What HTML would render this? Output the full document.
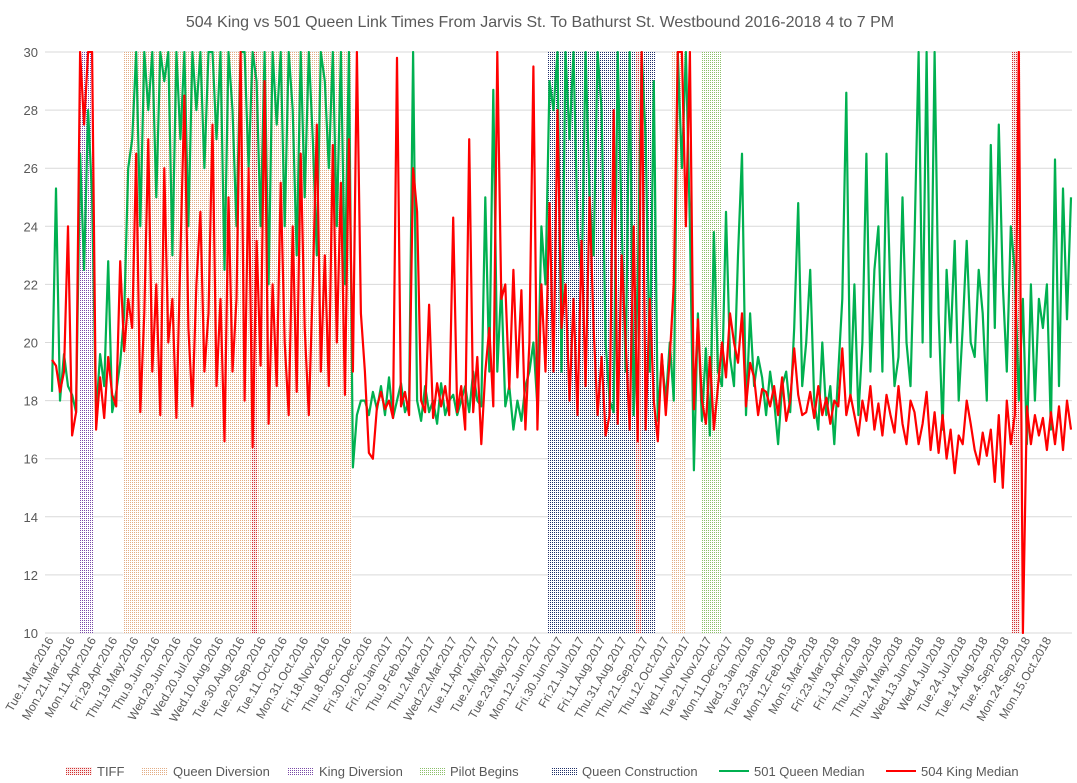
<!DOCTYPE html>
<html><head><meta charset="utf-8">
<style>
html,body{margin:0;padding:0;background:#fff;}
svg{display:block;font-family:"Liberation Sans",sans-serif;}
</style></head>
<body>
<svg id="chart" width="1077" height="783" viewBox="0 0 1077 783">
<defs>
<pattern id="pTiff" width="2" height="2" patternUnits="userSpaceOnUse"><rect width="2" height="2" fill="#fbeaea"/><rect width="1" height="1" fill="#d03030"/></pattern>
<pattern id="pQD" width="2" height="2" patternUnits="userSpaceOnUse"><rect width="2" height="2" fill="#fff"/><rect width="1" height="1" fill="#e3ad85"/></pattern>
<pattern id="pKD" width="2" height="2" patternUnits="userSpaceOnUse"><rect width="2" height="2" fill="#fff"/><rect width="1" height="1" fill="#7a4aa8"/></pattern>
<pattern id="pPB" width="2" height="2" patternUnits="userSpaceOnUse"><rect width="2" height="2" fill="#fff"/><rect width="1" height="1" fill="#8cbf6a"/></pattern>
<pattern id="pQC" width="2" height="2" patternUnits="userSpaceOnUse"><rect width="2" height="2" fill="#fff"/><rect width="1" height="1" fill="#1f2f6a"/></pattern>
<clipPath id="plotClip"><rect x="45" y="51" width="1032" height="583"/></clipPath>
</defs>
<text x="540" y="27" text-anchor="middle" font-size="16" fill="#595959">504 King vs 501 Queen Link Times From Jarvis St. To Bathurst St. Westbound 2016-2018 4 to 7 PM</text>
<g id="grid"></g>
<g id="bands" clip-path="url(#plotClip)"></g>
<g id="series" clip-path="url(#plotClip)"></g>
<g id="yaxis"></g>
<g id="xaxis"></g>
<g id="legend"></g>
</svg>
<script>
const yTicks = [10,12,14,16,18,20,22,24,26,28,30];
const xTickLabels = ["Tue.1.Mar.2016","Mon.21.Mar.2016","Mon.11.Apr.2016","Fri.29.Apr.2016","Thu.19.May.2016","Thu.9.Jun.2016","Wed.29.Jun.2016","Wed.20.Jul.2016","Wed.10.Aug.2016","Tue.30.Aug.2016","Tue.20.Sep.2016","Tue.11.Oct.2016","Mon.31.Oct.2016","Fri.18.Nov.2016","Thu.8.Dec.2016","Fri.30.Dec.2016","Fri.20.Jan.2017","Thu.9.Feb.2017","Thu.2.Mar.2017","Wed.22.Mar.2017","Tue.11.Apr.2017","Tue.2.May.2017","Tue.23.May.2017","Mon.12.Jun.2017","Fri.30.Jun.2017","Fri.21.Jul.2017","Fri.11.Aug.2017","Thu.31.Aug.2017","Thu.21.Sep.2017","Thu.12.Oct.2017","Wed.1.Nov.2017","Tue.21.Nov.2017","Mon.11.Dec.2017","Wed.3.Jan.2018","Tue.23.Jan.2018","Mon.12.Feb.2018","Mon.5.Mar.2018","Fri.23.Mar.2018","Fri.13.Apr.2018","Thu.3.May.2018","Thu.24.May.2018","Wed.13.Jun.2018","Wed.4.Jul.2018","Tue.24.Jul.2018","Tue.14.Aug.2018","Tue.4.Sep.2018","Mon.24.Sep.2018","Mon.15.Oct.2018"];
const queenMedian = [
18.3,25.3,18.0,19.6,18.5,18.2,17.6,26.5,22.5,28,
25,17.5,19.6,18.5,22.8,17.6,18.3,19.3,21,26,
27,30,24,30,28,30,25,30,29,30,
23,30,27,30,24,30,28,30,26,30,
30,27,30,22.5,30,28,24,30,30,26,
30,29,24,30,22,30,27.5,30,24,30,
28,23,30,25,30,27,23,30,29,26,
30,24,30,22,30,15.7,17.5,18,
18,17.5,18.3,17.7,18.5,17.5,18.8,17.4,18,18.6,17.6,18,
30,18,17.3,18.5,17.6,18,17.2,18.6,17.5,18,
18.2,17.5,18,18.5,17.6,19,18,17.8,25,19,
28.7,19,22,17.8,18.5,17,18,17.3,18.5,19,
20,17.8,24,22,29,
28,30,19,30,27,30,24,22,30,25,23,30,28,20,18,17.6,30,24,19,30,17.5,22,30,27,19,29,17.3,
19.5,18,20,18,30,26,30,24,15.6,
21,17.3,19.8,16.8,23.8,19,18.5,
24.5,19.5,18.5,23,26.5,17.5,21,18.5,19.5,18.8,
17.5,19,18,16.5,18.5,19,17.6,20.5,24.8,18.5,20,22.5,18,17,20,17.5,18.5,16.5,19,21.5,28.6,18,
22,17.5,20,26.5,19,22.5,24,19,26.5,21.5,18.5,19.5,25,20,18.5,23.5,30,20,30,19.5,
30,21,17,22.5,20,23.5,18,20.5,23.5,20,19.5,22.5,21,18,26.8,20.5,
27.5,22,19,24,22.5,18,21.5,16.5,
22,18,21.5,20.5,22,17,26.3,18.5,25.3,20.8,25];
const kingMedian = [
19.4,19.2,18.3,19.0,24.0,16.8,17.6,30,27.5,30,
30,17.0,18.8,17.4,19.5,18.2,17.8,22.8,19.7,21.5,
20.5,26.5,17.6,21,27,19,22,17.5,26,20,
21.5,17.4,23,28.5,20.5,17.8,22,24.5,19,21,
27.5,18.5,21.5,16.6,25,19,21.5,30,18,26,
16.4,23.5,19.2,29,17.2,22,18.5,25.5,20,17.5,
24,18.3,26.5,20.5,17.5,22,27.5,19,23,18.5,
26.8,20,25.5,18.2,27,19,30,21,
19,16.2,16.0,17.8,18.3,17.7,18.0,17.4,29.8,17.8,18.3,17.5,
26,24.5,18,17.6,21.3,17.4,18.6,17.8,18.5,17.5,
24.3,17.6,18.5,17,27,17.6,19.5,16.5,19,20.5,
17.8,30,21.5,22,18.4,22.5,18.8,21.8,17,20,
29.5,17,22,19,24.8,
19,28,20.5,22,18,21.5,17.5,23.5,18.5,25,20.5,17.5,19.5,16.8,17.5,28,17.2,23,20,17,24,16.6,30,17,21.5,18,16.6,
19.6,17.5,19.5,22,30,30,24,30,17.7,
20.8,18,17.2,19.5,17,18.5,20,
18.8,21,20,19.3,21,17.8,19.3,18.8,17.5,18.4,
18.3,17.8,18.5,17.5,18.8,17.3,18,19.8,18.2,17.5,17.6,18.3,17.4,18.5,17.5,18.1,17.2,18,17.8,19.8,17.5,18.2,
17.5,16.8,18,17.3,18.5,17,17.9,16.8,18.2,17.5,16.9,18.5,17.2,16.5,18,17.6,16.5,17.2,18.3,16.3,
17.6,16.2,17.5,16,17,15.5,16.8,16.5,18,17.2,16.3,15.8,16.9,16.1,17,15.2,
17.5,15,18,16.5,17.5,30,10,17.8,
16.5,17.5,16.8,17.4,16.3,17.6,16.5,17.8,16.3,18,17];
// shaded periods as fractions of the category axis (start, end)
const bandNames = ["King Diversion","Queen Diversion","TIFF","Queen Construction","TIFF","Queen Diversion","Pilot Begins","TIFF"];
const bandStart = [0.0275,0.0697,0.1962,0.4867,0.5731,0.6084,0.6379,0.9421];
const bandEnd   = [0.0403,0.2944,0.2011,0.5918,0.5780,0.6212,0.6566,0.9500];

const NS="http://www.w3.org/2000/svg";
const X0=52, X1=1071, Y0=633, Y1=52, YMIN=10, YMAX=30;
function yScale(v){return Y0-(v-YMIN)/(YMAX-YMIN)*(Y0-Y1);}
function xScale(i,n){return X0+i*(X1-X0)/(n-1);}
function xFrac(f){return X0+f*(X1-X0);}
function mk(tag,attrs,parent){const e=document.createElementNS(NS,tag);for(const k in attrs)e.setAttribute(k,attrs[k]);parent.appendChild(e);return e;}
const patFor={"TIFF":"url(#pTiff)","Queen Diversion":"url(#pQD)","King Diversion":"url(#pKD)","Pilot Begins":"url(#pPB)","Queen Construction":"url(#pQC)"};

const grid=document.getElementById('grid');
yTicks.forEach(t=>{
  const l=mk('line',{x1:45,x2:1072,y1:yScale(t),y2:yScale(t),stroke:'#d9d9d9','stroke-width':1},grid);
  
  
});
const yax=document.getElementById('yaxis');
yTicks.forEach(t=>{
  const tx=mk('text',{x:38,y:yScale(t)+5,'text-anchor':'end','font-size':13,fill:'#595959'},yax);
  tx.textContent=t;
  
  
});
const bands=document.getElementById('bands');
bandNames.forEach((nm,k)=>{
  const x1=xFrac(bandStart[k]), x2=xFrac(bandEnd[k]);
  const r=mk('rect',{x:x1,y:Y1,width:x2-x1,height:Y0-Y1,fill:patFor[nm]},bands);
  
  
});
const ser=document.getElementById('series');
function drawLine(arr,color,name){
  const d=arr.map((v,i)=>(i?'L':'M')+xScale(i,arr.length).toFixed(1)+' '+yScale(v).toFixed(1)).join(' ');
  const p=mk('path',{d:d,fill:'none',stroke:color,'stroke-width':2.2,'stroke-linejoin':'round'},ser);
  
  
}
drawLine(queenMedian,'#00b050','line-501-queen-median');
drawLine(kingMedian,'#ff0000','line-504-king-median');

const xax=document.getElementById('xaxis');
const step=(X1-X0)/xTickLabels.length;
xTickLabels.forEach((s,i)=>{
  const x=X0+2+i*step, y=640;
  const tx=mk('text',{x:x,y:y,'text-anchor':'end','font-size':12,fill:'#595959',transform:'rotate(-60 '+x+' '+y+')'},xax);
  tx.textContent=s;
  
  
});

const leg=document.getElementById('legend');
const legendNames=["TIFF","Queen Diversion","King Diversion","Pilot Begins","Queen Construction","501 Queen Median","504 King Median"];
const legendX=[66,142,288,419,551,719,886];
legendNames.forEach((n,i)=>{
  const g=mk('g',{},leg);
  
  
  const x=legendX[i];
  if(i<5){mk('rect',{x:x,y:767,width:26,height:8,fill:patFor[n]},g);}
  else{mk('line',{x1:x,x2:x+30,y1:771,y2:771,stroke:i===5?'#00b050':'#ff0000','stroke-width':2},g);}
  const tx=mk('text',{x:x+(i<5?31:35),y:776,'font-size':13,fill:'#595959'},g);
  tx.textContent=n;
});
</script>
</body></html>
